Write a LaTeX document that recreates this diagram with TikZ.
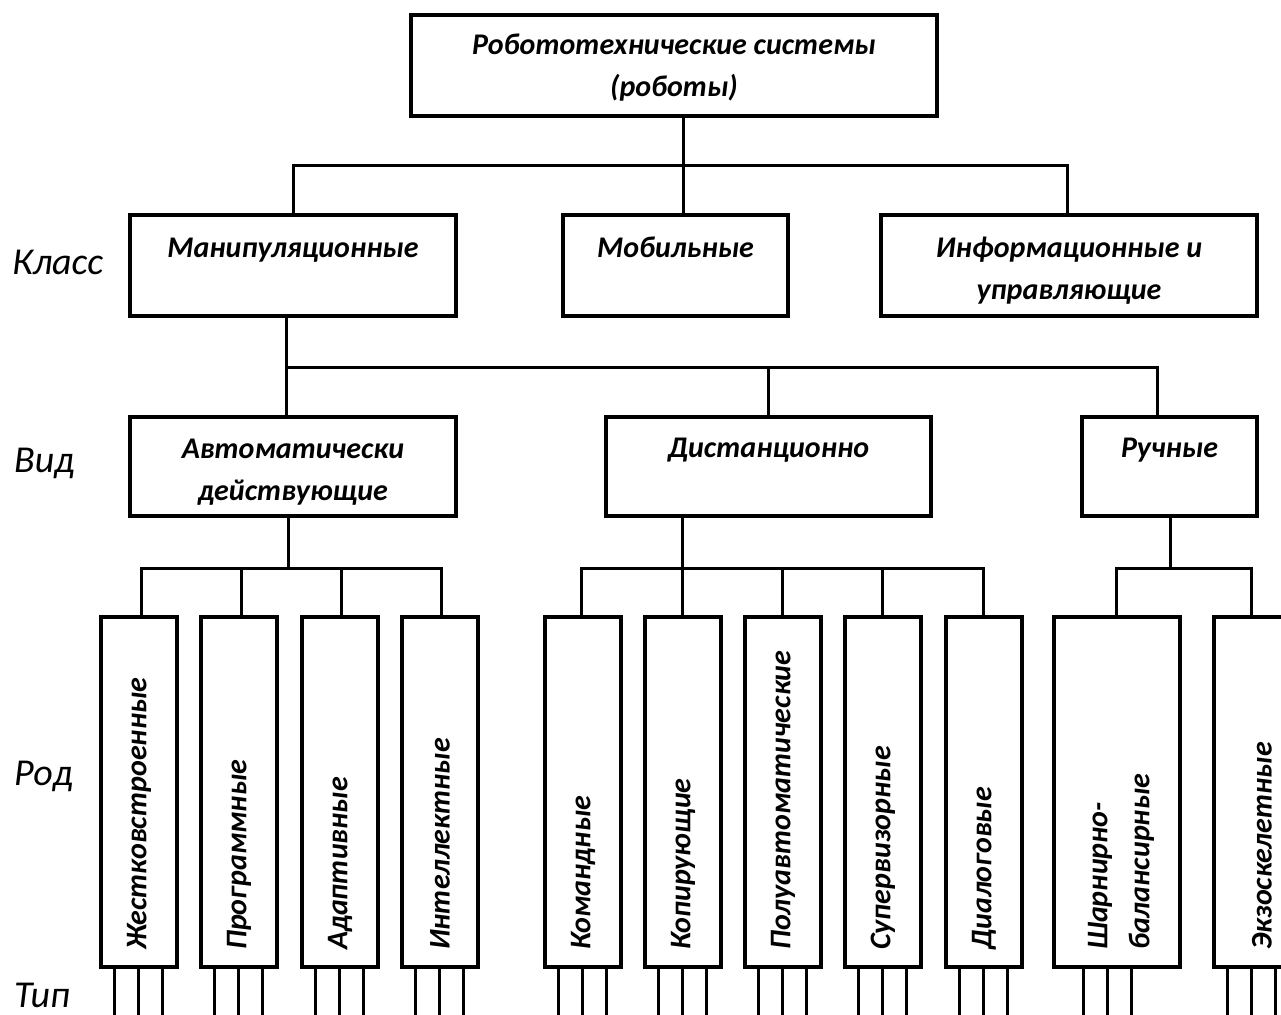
\documentclass[tikz,border=0pt]{standalone}
\usepackage{fontspec}
\setmainfont{Carlito}
\begin{document}
\begin{tikzpicture}[x=1pt,y=-1pt,
  box/.style={draw, line width=3.8pt, fill=white, inner sep=0pt, rectangle},
  ln/.style={line width=3pt},
  txt/.style={font=\fontsize{30}{42}\selectfont\bfseries\itshape, inner sep=0pt, align=center},
  rot/.style={font=\fontsize{30}{42}\selectfont\bfseries\itshape, inner sep=0pt, align=left, rotate=90, anchor=west},
  side/.style={font=\fontsize{38}{46}\selectfont\itshape, inner sep=0pt, anchor=base west}]
\useasboundingbox[fill=white] (0,0) rectangle (1281,1014);

% ---- top
\node[box, minimum width=526pt, minimum height=101pt] (top) at (674,65.5) {};
\node[txt, anchor=base] (ttop) at (674,97) {Робототехнические системы\\(роботы)};

% ---- class level
\node[box, minimum width=326pt, minimum height=101pt] (man) at (293,265.5) {};
\node[box, minimum width=225pt, minimum height=101pt] (mob) at (675.5,265.5) {};
\node[box, minimum width=376pt, minimum height=101pt] (inf) at (1069,265.5) {};
\node[txt, anchor=base] (tman) at (293,257) {Манипуляционные};
\node[txt, anchor=base] (tmob) at (675.5,257) {Мобильные};
\node[txt, anchor=base] (tinf) at (1069,299) {Информационные и\\управляющие};

% ---- kind level
\node[box, minimum width=326pt, minimum height=99pt] (auto) at (293,466.5) {};
\node[box, minimum width=325pt, minimum height=99pt] (dist) at (768.5,466.5) {};
\node[box, minimum width=175pt, minimum height=99pt] (ruch) at (1169.5,466.5) {};
\node[txt, anchor=base] (tauto) at (293,500) {Автоматически\\действующие};
\node[txt, anchor=base] (tdist) at (768.5,457) {Дистанционно};
\node[txt, anchor=base] (truch) at (1169.5,457) {Ручные};

% ---- genus level
\foreach \n/\l/\w in {1/101/76, 2/201/76, 3/302/76, 4/402/76, 5/545/76, 6/645/76, 7/745/76, 8/845/76, 9/946/76, 10/1054/126, 11/1214/76}{
  \node[box, minimum width=\w pt, minimum height=350pt] (r\n) at ({\l+\w/2},792) {};
}
\node[rot] (t1) at (139,950) {Жестковстроенные};
\node[rot] (t2) at (239,950) {Программные};
\node[rot] (t3) at (340,950) {Адаптивные};
\node[rot] (t4) at (440,950) {Интеллектные};
\node[rot] (t5) at (583,950) {Командные};
\node[rot] (t6) at (683,950) {Копирующие};
\node[rot] (t7) at (783,950) {Полуавтоматические};
\node[rot] (t8) at (883,950) {Супервизорные};
\node[rot] (t9) at (984,950) {Диалоговые};
\node[rot] (t10) at (1121,950) {Шарнирно-\\балансирные};
\node[rot] (t11) at (1262,950) {Экзоскелетные};

% ---- side labels
\node[side] (lk) at (12,274) {Класс};
\node[side] (lv) at (14,472) {Вид};
\node[side] (lr) at (14,785) {Род};
\node[side] (lt) at (14,1007) {Тип};

% ---- connectors: top -> class
\coordinate (b1l) at (293,165);
\coordinate (b1m) at (683,165);
\coordinate (b1r) at (1067,165);
\draw[ln] (top.south -| b1m) -- (b1m);
\draw[ln] (man.north -| b1l) -- (b1l) -- (b1r) -- (inf.north -| b1r);
\draw[ln] (b1m) -- (mob.north -| b1m);

% ---- man -> kinds
\coordinate (b2l) at (286,367);
\coordinate (b2m) at (768,367);
\coordinate (b2r) at (1157,367);
\draw[ln] (man.south -| b2l) -- (auto.north -| b2l);
\draw[ln] (b2l) -- (b2r) -- (ruch.north -| b2r);
\draw[ln] (b2m) -- (dist.north -| b2m);

% ---- auto -> genus
\coordinate (a0) at (288,568);
\coordinate (a1) at (141,568);
\coordinate (a2) at (241,568);
\coordinate (a3) at (341,568);
\coordinate (a4) at (441,568);
\draw[ln] (auto.south -| a0) -- (a0);
\draw[ln] (r1.north -| a1) -- (a1) -- (a4) -- (r4.north -| a4);
\draw[ln] (a2) -- (r2.north -| a2);
\draw[ln] (a3) -- (r3.north -| a3);

% ---- dist -> genus
\coordinate (d0) at (682,568);
\coordinate (d1) at (581,568);
\coordinate (d2) at (682,568);
\coordinate (d3) at (782,568);
\coordinate (d4) at (882,568);
\coordinate (d5) at (983,568);
\draw[ln] (dist.south -| d0) -- (d0);
\draw[ln] (r5.north -| d1) -- (d1) -- (d5) -- (r9.north -| d5);
\draw[ln] (d2) -- (r6.north -| d2);
\draw[ln] (d3) -- (r7.north -| d3);
\draw[ln] (d4) -- (r8.north -| d4);

% ---- ruch -> genus
\coordinate (h0) at (1170,568);
\coordinate (h1) at (1116,568);
\coordinate (h2) at (1251,568);
\draw[ln] (ruch.south -| h0) -- (h0);
\draw[ln] (r10.north -| h1) -- (h1) -- (h2) -- (r11.north -| h2);

% ---- type prongs
\foreach \n/\l in {1/101, 2/201, 3/302, 4/402, 5/545, 6/645, 7/745, 8/845, 9/946, 10/1070, 11/1214}{
  \foreach \o in {13,37,61}{
    \coordinate (p\n-\o) at ({\l+\o},1018);
    \draw[ln] (r\n.south -| p\n-\o) -- (p\n-\o);
  }
}
\end{tikzpicture}
\end{document}
